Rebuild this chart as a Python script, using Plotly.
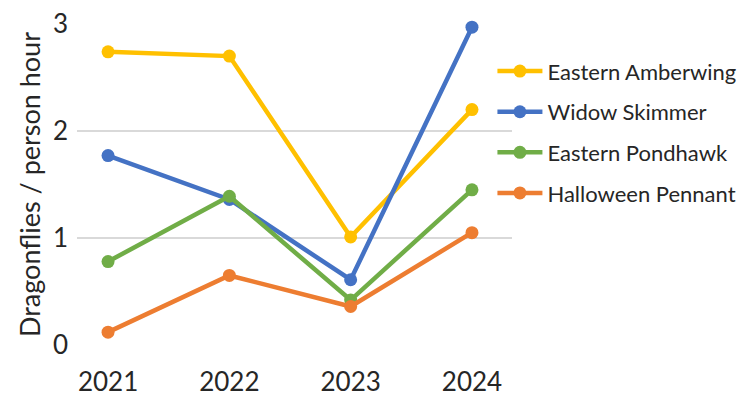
import plotly.graph_objects as go

years = ["2021", "2022", "2023", "2024"]
amberwing = [2.74, 2.70, 1.01, 2.20]
widow = [1.77, 1.36, 0.61, 2.97]
pondhawk = [0.78, 1.39, 0.42, 1.45]
halloween = [0.12, 0.65, 0.36, 1.05]

series = [
    ("Eastern Amberwing", amberwing, "#FFC000"),
    ("Widow Skimmer", widow, "#4472C4"),
    ("Eastern Pondhawk", pondhawk, "#70AD47"),
    ("Halloween Pennant", halloween, "#ED7D31"),
]

FONT = "Lato"
fig = go.Figure()
for name, vals, col in series:
    fig.add_trace(go.Scatter(
        x=years, y=vals, name=name, mode="lines+markers",
        line=dict(color=col, width=4.5),
        marker=dict(color=col, size=13),
        cliponaxis=False, legendgroup=name,
    ))

fig.update_layout(
    width=741, height=398,
    margin=dict(l=77, r=229, t=24, b=53, autoexpand=False),
    paper_bgcolor="white", plot_bgcolor="white",
    font=dict(family=FONT, color="#262626"),
    showlegend=True,
    legend=dict(x=0.955, xanchor="left", y=0.918, yanchor="top",
                font=dict(size=22, family=FONT, color="#262626"),
                tracegroupgap=9, itemwidth=45, bgcolor="rgba(0,0,0,0)"),
    xaxis=dict(type="category", range=[-0.256, 3.33], showgrid=False,
               zeroline=False, showline=False, ticks="", automargin=False,
               tickfont=dict(size=26, family=FONT), ticklabelstandoff=19),
    yaxis=dict(range=[0, 3], tickvals=[0, 1, 2, 3], showgrid=True,
               gridcolor="#D9D9D9", gridwidth=2, zeroline=False,
               showline=False, ticks="", automargin=False,
               tickfont=dict(size=26, family=FONT), ticklabelstandoff=8,
               title=dict(text="Dragonflies / person hour",
                          font=dict(size=27, family=FONT), standoff=4)),
)

fig.write_html("out.html")
